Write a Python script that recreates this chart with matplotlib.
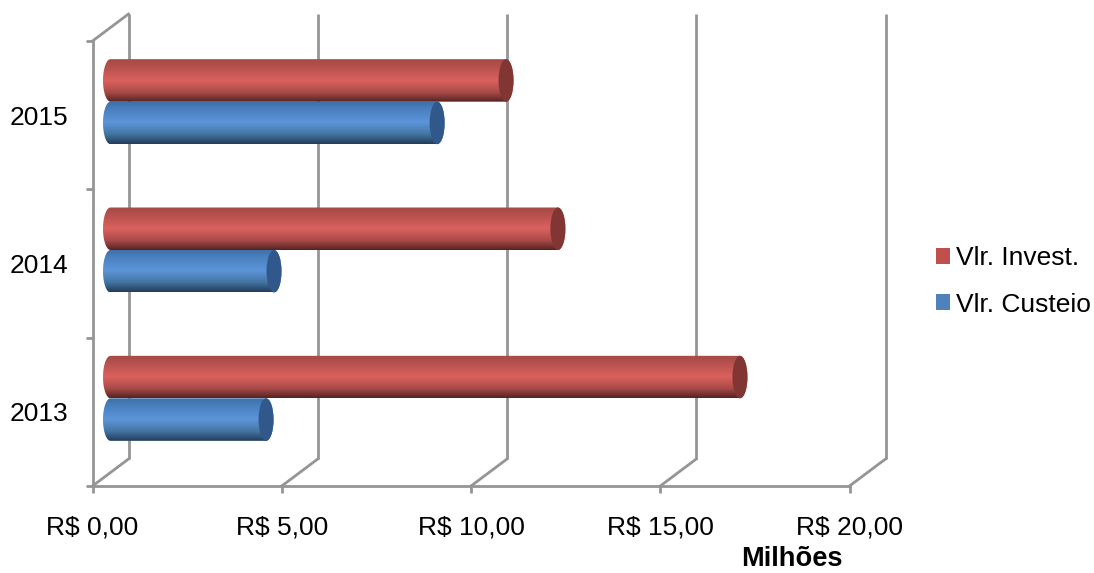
import numpy as np
import matplotlib
matplotlib.use("Agg")
import matplotlib.pyplot as plt
from matplotlib.colors import LinearSegmentedColormap
from matplotlib.patches import Ellipse, Patch, PathPatch
from matplotlib.path import Path

plt.rcParams['font.family'] = ['Liberation Sans', 'DejaVu Sans']

# data
years = ['2013', '2014', '2015']
vlr_invest = [16.63, 11.82, 10.45]
vlr_custeio = [4.11, 4.32, 8.63]
x_ticks = [0, 5, 10, 15, 20]
x_labels = ['R$ 0,00', 'R$ 5,00', 'R$ 10,00', 'R$ 15,00', 'R$ 20,00']

W, H = 1094, 573
L, R, B, T = 92.5, 849.5, 486.0, 41.0
GRID = '#959595'
LW = 2.0
FS = 19

fig = plt.figure(figsize=(W / 100, H / 100), dpi=100, facecolor='white')
ax = fig.add_axes([L / W, 1 - B / H, (R - L) / W, (B - T) / H])
ax.set_xlim(0, 20)
ax.set_ylim(0, 3)

px = 20 / (R - L)          # value units per pixel
py = 3 / (B - T)           # category units per pixel
dx, dy = 36 * px, 27 * py  # 3D depth of the floor and walls

# walls
for v in x_ticks:
    ax.plot([v, v + dx], [0, dy], color=GRID, lw=LW, clip_on=False, zorder=1)
    ax.plot([v + dx, v + dx], [dy, 3 + dy], color=GRID, lw=LW, clip_on=False, zorder=1,
            solid_capstyle='butt')
ax.plot([0, dx], [3, 3 + dy], color=GRID, lw=LW, clip_on=False, zorder=1)

for s in ['top', 'right']:
    ax.spines[s].set_visible(False)
for s in ['left', 'bottom']:
    ax.spines[s].set_color(GRID)
    ax.spines[s].set_linewidth(LW)

ax.set_xticks(x_ticks)
ax.set_xticklabels(x_labels, fontsize=FS)
ax.set_yticks(range(4))
ax.set_yticklabels([])
ax.set_yticks(np.arange(3) + 0.5, labels=years, minor=True, fontsize=FS)
ax.tick_params(axis='x', length=5, width=LW, color=GRID, pad=16, labelcolor='black')
ax.tick_params(axis='y', which='major', length=5, width=LW, color=GRID)
ax.tick_params(axis='y', which='minor', length=0, pad=17.5, labelcolor='black')

red_cmap = LinearSegmentedColormap.from_list(
    'r', [(0, '#a64a47'), (0.15, '#b34f4c'), (0.5, '#dc615e'), (0.78, '#a84a48'), (1, '#552321')])
blue_cmap = LinearSegmentedColormap.from_list(
    'b', [(0, '#3e6ea6'), (0.15, '#477dbb'), (0.5, '#5c96da'), (0.78, '#43739f'), (1, '#223c5c')])
grad = np.linspace(0, 1, 128).reshape(-1, 1)

rx = 7.5 * px
bar_h = 42.5 * py


def cylinder(value, y0, cmap, cap):
    """Cylinder from the mid-depth base plane up to value, y0 is the lower edge."""
    x0 = dx / 2
    x1 = x0 + value
    yc = y0 + bar_h / 2
    t = np.linspace(np.pi / 2, 3 * np.pi / 2, 40)
    left = np.column_stack([x0 + rx * np.cos(t), yc + bar_h / 2 * np.sin(t)])
    t2 = np.linspace(-np.pi / 2, np.pi / 2, 40)
    right = np.column_stack([x1 + rx * np.cos(t2), yc + bar_h / 2 * np.sin(t2)])
    verts = np.vstack([left, right, left[:1]])
    body = PathPatch(Path(verts), transform=ax.transData, fc='none', ec='none')
    ax.add_patch(body)
    im = ax.imshow(grad, cmap=cmap, aspect='auto', zorder=3, clip_on=True,
                   extent=[x0 - rx, x1 + rx, y0, y0 + bar_h], interpolation='bilinear')
    im.set_clip_path(body)
    ax.add_patch(Ellipse((x1, yc), 2 * rx, bar_h, fc=cap, ec='none', zorder=4, clip_on=False))


for i in range(len(years)):
    base = i + 0.5 + dy / 2
    cylinder(vlr_custeio[i], base - bar_h, blue_cmap, '#31588a')
    cylinder(vlr_invest[i], base, red_cmap, '#823634')

ax.set_xlim(0, 20)
ax.set_ylim(0, 3)

leg = fig.legend(handles=[Patch(fc='#c0504d', label='Vlr. Invest.'),
                          Patch(fc='#4f81bd', label='Vlr. Custeio')],
                 loc='center left', bbox_to_anchor=(936 / W, 1 - 281.5 / H), frameon=False,
                 fontsize=FS, handlelength=0.53, handleheight=0.53, handletextpad=0.23,
                 labelspacing=0.84, borderpad=0, borderaxespad=0)

fig.text(791.5 / W, 1 - 558.5 / H, 'Milhões', fontsize=19.6, fontweight='bold', ha='center', va='center')

fig.savefig('out.png', dpi=100)
